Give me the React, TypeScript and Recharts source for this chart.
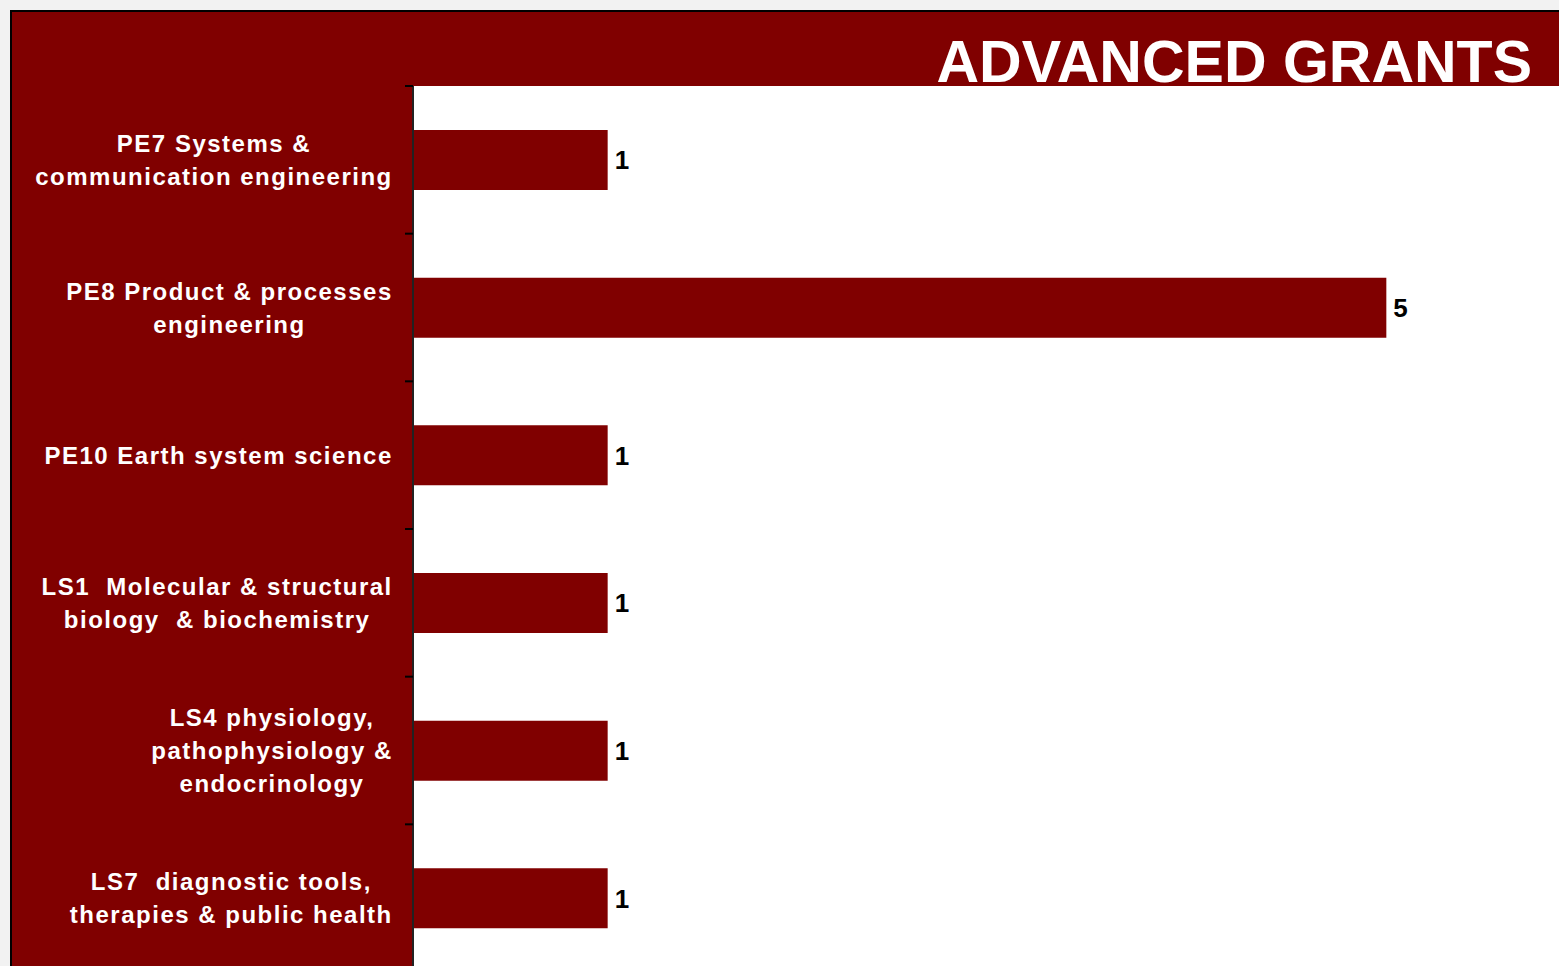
import React from "react";
import { BarChart, Bar, XAxis, YAxis, CartesianGrid, LabelList } from "recharts";

const categories = [
  "PE7 Systems & communication engineering",
  "PE8 Product & processes engineering",
  "PE10 Earth system science",
  "LS1  Molecular & structural biology  & biochemistry",
  "LS4 physiology, pathophysiology & endocrinology",
  "LS7  diagnostic tools, therapies & public health",
];

// how the tick labels wrap in the original
const tickLines = [
  ["PE7 Systems &", "communication engineering"],
  ["PE8 Product & processes", "engineering"],
  ["PE10 Earth system science"],
  ["LS1  Molecular & structural", "biology  & biochemistry"],
  ["LS4 physiology,", "pathophysiology &", "endocrinology"],
  ["LS7  diagnostic tools,", "therapies & public health"],
];

const grants = [1, 5, 1, 1, 1, 1];

const xTicks = [0, 1, 2, 3, 4, 5, 6];

const RED = "#800000";
const FONT = "'Liberation Sans', Arial, sans-serif";
const CHART_W = 1581;
const CHART_H = 972;
const TOP = 86;
const AXIS_X = 413;
const LABEL_SIZE = 24;
const LABEL_SPACING = 1.5;
const LINE_H = 33;

let ctx: CanvasRenderingContext2D | null = null;
function textWidth(s: string): number {
  if (!ctx) ctx = document.createElement("canvas").getContext("2d");
  if (!ctx) return s.length * LABEL_SIZE * 0.55;
  ctx.font = `bold ${LABEL_SIZE}px 'Liberation Sans'`;
  return ctx.measureText(s).width + LABEL_SPACING * (s.length - 1);
}

const band = (CHART_H - TOP) / categories.length;

function CategoryTick(props: any) {
  const { y, index } = props;
  const lines = tickLines[index] || [];
  const maxW = Math.max(...lines.map(textWidth));
  const cx = AXIS_X - 21 - maxW / 2;
  const n = lines.length;
  return (
    <g>
      <line x1={AXIS_X - 8} x2={AXIS_X} y1={y - band / 2} y2={y - band / 2} stroke="#000" strokeWidth={2} />
      {index === categories.length - 1 && (
        <line x1={AXIS_X - 8} x2={AXIS_X} y1={y + band / 2} y2={y + band / 2} stroke="#000" strokeWidth={2} />
      )}
      {lines.map((line, i) => (
        <text
          key={i}
          x={cx}
          y={y + (i - (n - 1) / 2) * LINE_H + 8.5}
          textAnchor="middle"
          fill="#fff"
          fontFamily={FONT}
          fontWeight="bold"
          fontSize={LABEL_SIZE}
          letterSpacing={LABEL_SPACING}
          style={{ whiteSpace: "pre" }}
        >
          {line}
        </text>
      ))}
    </g>
  );
}

export default function App() {
  const data = categories.map((name, i) => ({ name, value: grants[i] }));

  return (
    <div
      style={{
        position: "fixed",
        left: 0,
        top: 0,
        width: 1559,
        height: 966,
        overflow: "hidden",
        background: "#f2f2f2",
      }}
    >
      <div
        style={{
          position: "absolute",
          left: 10,
          top: 10,
          width: 1620,
          height: 1000,
          background: RED,
          borderTop: "2px solid #000",
          borderLeft: "2px solid #000",
        }}
      />
      <div style={{ position: "absolute", left: 0, top: 0 }}>
        <BarChart
          width={CHART_W}
          height={CHART_H}
          layout="vertical"
          data={data}
          margin={{ top: TOP, right: 0, bottom: 0, left: 0 }}
          barSize={60}
        >
          <CartesianGrid horizontal={false} vertical={false} fill="#fff" />
          <XAxis type="number" domain={[0, 6]} ticks={xTicks} hide />
          <YAxis
            type="category"
            dataKey="name"
            width={AXIS_X}
            interval={0}
            axisLine={{ stroke: "#222", strokeWidth: 2 }}
            tickLine={false}
            tick={<CategoryTick />}
          />
          <Bar dataKey="value" fill={RED} isAnimationActive={false}>
            <LabelList
              dataKey="value"
              position="right"
              offset={7}
              fill="#000"
              fontSize={26}
              fontWeight="bold"
              fontFamily={FONT}
            />
          </Bar>
        </BarChart>
      </div>
      <svg
        width={1559}
        height={966}
        style={{ position: "absolute", left: 0, top: 0, pointerEvents: "none" }}
      >
        <text
          x={1532}
          y={82}
          textAnchor="end"
          fill="#fff"
          fontFamily={FONT}
          fontWeight="bold"
          fontSize={59}
        >
          ADVANCED GRANTS
        </text>
      </svg>
    </div>
  );
}
